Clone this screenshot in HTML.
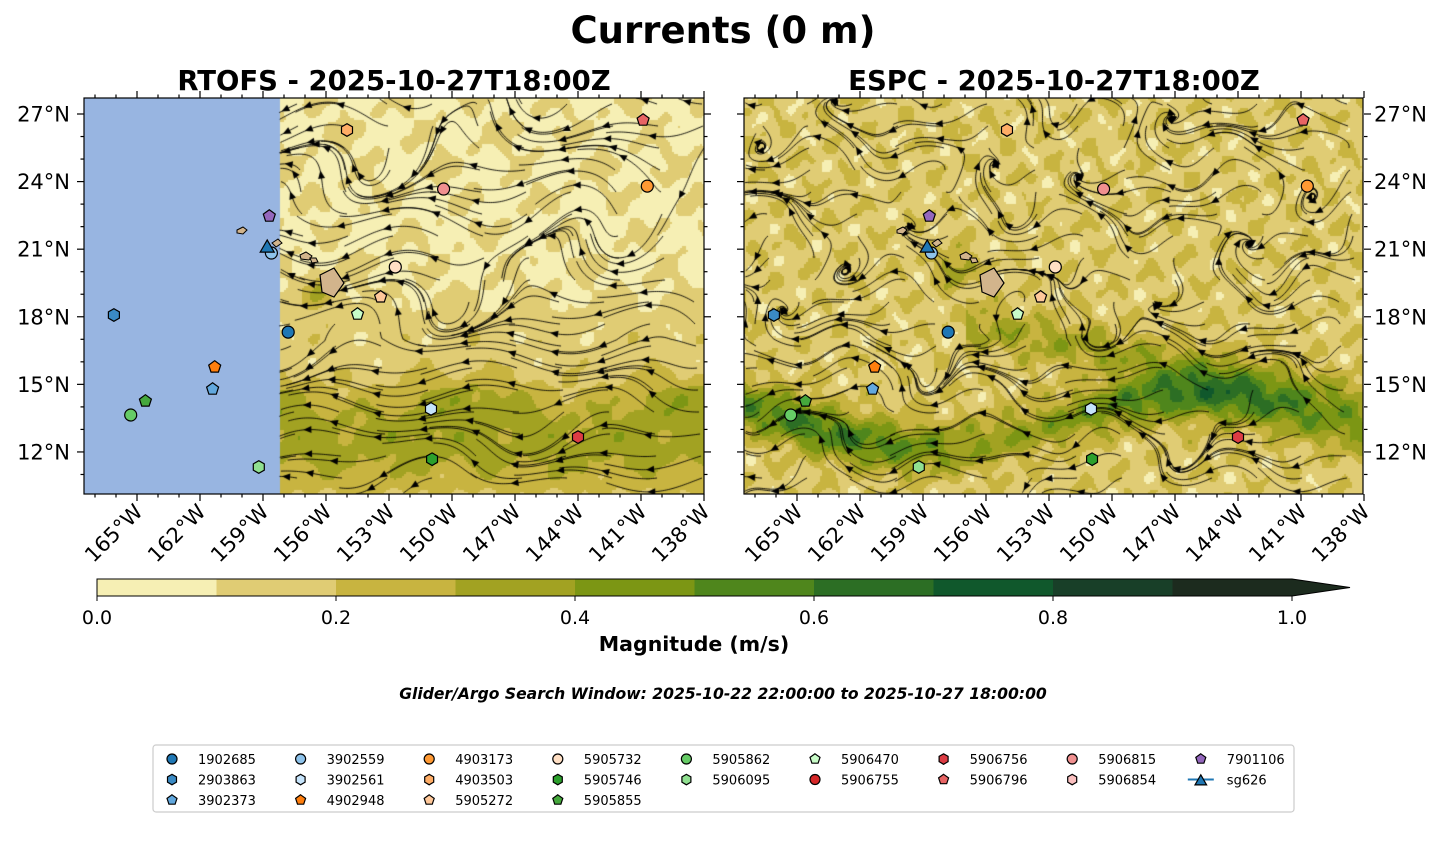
<!DOCTYPE html>
<html><head><meta charset="utf-8">
<style>
html,body{margin:0;padding:0;background:#fff;}
#wrap{position:relative;width:1447px;height:863px;overflow:hidden;font-family:"DejaVu Sans","Liberation Sans",sans-serif;}
canvas{position:absolute;}
svg{position:absolute;left:0;top:0;font-family:"DejaVu Sans","Liberation Sans",sans-serif;}
</style></head>
<body>
<div id="wrap">
<canvas id="cL" width="620" height="396" style="left:84px;top:98px"></canvas>
<canvas id="cR" width="619" height="396" style="left:744px;top:98px"></canvas>
<svg id="svg" width="1447" height="863" xmlns="http://www.w3.org/2000/svg"></svg>
</div>
<script>
// ---- data ----
const floatIds = ["1902685","2903863","3902373","3902559","3902561","4902948","4903173","4903503","5905272","5905732","5905746","5905855","5905862","5906095","5906470","5906755","5906756","5906796","5906815","5906854","7901106","sg626"];
const floatShapes = ["o","h","p","o","h","p","o","h","p","o","h","p","o","h","p","o","h","p","o","h","p","t"];
const floatColors = ["#1f77b4","#3a8ac4","#62a8de","#8ec3eb","#c6e4fb","#ff7f0e","#ff9933","#ffad66","#ffc89a","#ffdfc4","#2ca02c","#45a83c","#66cc66","#90e090","#c8fcc8","#d62728","#dc3c44","#e86464","#f09090","#fbc0c0","#9467bd","#1f77b4"];
const floatLon = [157.8,166.1,161.4,158.6,151.0,161.3,140.7,155.0,153.4,152.7,150.95,164.6,165.3,159.2,154.5,null,144.0,140.9,150.4,null,158.7,158.8];
const floatLat = [17.32,18.08,14.79,20.83,13.91,15.77,23.80,26.29,18.88,20.21,11.68,14.26,13.64,11.33,18.12,null,12.66,26.73,23.67,null,22.47,21.14];
const lonTicks = [165,162,159,156,153,150,147,144,141,138];
const latTicks = [27,24,21,18,15,12];
const cbTicks = [0.0,0.2,0.4,0.6,0.8,1.0];
const cbColors = ["#f6efb4","#e0cc74","#c8b440","#a2a222","#7c9614","#4f861c","#2c6e24","#10582c","#183f28","#1c2b1e"];

// ---- axes ----
const panels=[{x0:84,name:"rtofs"},{x0:744,name:"espc"}];
const PW=620,PY0=98,PH=396;
function lx(lon){return 704-(lon-138)*21;}
function ly(lat){return 114+(27-lat)*22.53;}
const NS="http://www.w3.org/2000/svg";
const svg=document.getElementById('svg');
function mk(tag,attrs,parent){const e=document.createElementNS(NS,tag);for(const k in attrs)e.setAttribute(k,attrs[k]);(parent||svg).appendChild(e);return e;}

// ---- field ----
function mag(lon,lat,right){
  let m;
  if(!right){
    m=0.09+0.25*Math.exp(-Math.pow((lat-12.5)/2.6,2))+0.05*Math.sin(lon*1.7+lat*0.9)*Math.sin(lat*2.1)+0.03*Math.sin(lon*4.1)*Math.cos(lat*3.7);
    m+=0.12*Math.exp(-Math.pow((lat-14.5)/1.1,2))*(0.5+0.5*Math.sin(lon*0.6));
    m+=0.05*Math.exp(-Math.pow((lat-17.5)/1.5,2));
    m+=0.25*Math.exp(-(Math.pow(lon-156.3,2)+Math.pow(lat-19.2,2))/0.6);
  }else{
    const bc=13.4+1.2*Math.sin((lon-140)*0.25);
    m=0.17+0.42*Math.exp(-Math.pow((lat-bc)/1.1,2))*(0.75+0.25*Math.cos((lon-146)*0.35));
    m+=0.18*Math.exp(-Math.pow((lat-(17.5-(156-lon)*0.18))/1.0,2))*(lon<157?1:0);
    m+=0.08*Math.sin(lon*2.3+lat*1.1)*Math.sin(lat*2.7-lon*0.8)+0.05*Math.sin(lon*5.1)*Math.cos(lat*4.3);
    m+=0.2*Math.exp(-(Math.pow(lon-157.5,2)+Math.pow(lat-20.2,2))/0.8);
  }
  return Math.max(0,m);
}
function vel(lon,lat,right){
  let u=0.8+0.7*Math.sin(lat*0.8+lon*0.35)+(lat<17?0.7:0);
  let v=0.5*Math.sin(lon*0.9+lat*0.5)+0.3*Math.cos(lat*1.3-lon*0.4);
  if(right){u+=0.7*Math.sin(lat*1.6+lon*1.1);v+=0.8*Math.cos(lon*1.3-lat*0.9);}
  return [u,v];
}
function drawField(id,right){
  const c=document.getElementById(id),g=c.getContext('2d');
  const W=c.width,H=c.height,cs=2;
  for(let y=0;y<H;y+=cs)for(let x=0;x<W;x+=cs){
    const lon=138+(704-84-x)/21, lat=27-(y+98-114)/22.53;
    if(!right&&x<195){g.fillStyle="#98b5e1";g.fillRect(x,y,cs,cs);continue;}
    const m=mag(lon,lat,right);const i=Math.min(9,Math.floor(m*10));
    g.fillStyle=cbColors[i];g.fillRect(x,y,cs,cs);
  }
  g.strokeStyle="#000";g.lineWidth=0.9;g.fillStyle="#000";
  const x0=right?0:195;
  for(let sy=6;sy<H;sy+=22)for(let sx=x0+10;sx<W+40;sx+=45){
    let x=sx+((sy*7)%17),y=sy;g.beginPath();g.moveTo(x,y);
    let pts=[[x,y]];
    for(let k=0;k<45;k++){
      const lon=138+(620-x)/21,lat=27-(y-16)/22.53;
      const [u,v]=vel(lon,lat,right);const n=Math.hypot(u,v)||1;
      x-=u/n*2.2;y-=v/n*2.2;
      if(x<x0||x>W||y<0||y>H)break;
      g.lineTo(x,y);pts.push([x,y]);
    }
    g.stroke();
    if(pts.length>8){const a=pts[Math.floor(pts.length/2)],b=pts[Math.floor(pts.length/2)+1];
      const ang=Math.atan2(b[1]-a[1],b[0]-a[0]);
      g.save();g.translate(b[0],b[1]);g.rotate(ang);g.beginPath();g.moveTo(4,0);g.lineTo(-4,-3.5);g.lineTo(-4,3.5);g.closePath();g.fill();g.restore();}
  }
}
drawField('cL',false);drawField('cR',true);

// ---- titles ----
let t=mk('text',{x:723,y:43,'text-anchor':'middle','font-size':37,'font-weight':'bold'});t.textContent="Currents (0 m)";

const subs=["RTOFS - 2025-10-27T18:00Z","ESPC - 2025-10-27T18:00Z"];
panels.forEach((p,pi)=>{
  const dx=p.x0-84;
  const g=mk('g',{});
  
  let s=mk('text',{x:p.x0+310,y:90,'text-anchor':'middle','font-size':27.5,'font-weight':'bold'},g);s.textContent=subs[pi];
  
  const isl=mk('path',{d:`M${dx+320},${275} L${dx+334},${268} L${dx+344},${283} L${dx+334},${297} L${dx+322},${292} Z`,fill:'#d2b48c',stroke:'#000','stroke-width':1.2},g);
  
  mk('path',{d:`M${dx+300},255 l6,-3 6,4 -3,4 -8,-1 Z M${dx+310},258 l6,0 2,4 -6,1 Z M${dx+237},230 l6,-3 4,3 -4,4 -6,-1Z M${dx+272},243 l6,-4 4,4 -6,4Z`,fill:'#d2b48c',stroke:'#000','stroke-width':1},g);
  const fr=mk('rect',{x:p.x0,y:PY0,width:PW-(pi?1:0),height:PH,fill:'none',stroke:'#000','stroke-width':1.2},g);
  
  for(let lon=167;lon>=138;lon--){const x=lx(lon)+dx;const maj=lonTicks.includes(lon);const L=maj?7:3.5;
    mk('line',{x1:x,y1:PY0,x2:x,y2:PY0-L,stroke:'#000','stroke-width':1.2},g);
    mk('line',{x1:x,y1:PY0+PH,x2:x,y2:PY0+PH+L,stroke:'#000','stroke-width':1.2},g);}
  for(let lat=11;lat<=27;lat++){const y=ly(lat);const maj=latTicks.includes(lat);const L=maj?7:3.5;
    mk('line',{x1:p.x0,y1:y,x2:p.x0-L,y2:y,stroke:'#000','stroke-width':1.2},g);
    mk('line',{x1:p.x0+PW,y1:y,x2:p.x0+PW+L,y2:y,stroke:'#000','stroke-width':1.2},g);}
  lonTicks.forEach(lon=>{const x=lx(lon)+dx+7;
    const tl=mk('text',{x:x,y:513,'text-anchor':'end','font-size':21,transform:`rotate(-45 ${x} 513)`},g);tl.textContent=lon+"°W";
    });
  latTicks.forEach(lat=>{const y=ly(lat)+7.5;
    const tl=mk('text',pi?{x:1374,y:y,'font-size':21}:{x:70,y:y,'text-anchor':'end','font-size':21},g);tl.textContent=lat+"°N";
    });
});

// ---- markers ----
function marker(shape,cx,cy,r,col,parent){
  if(shape==='o')return mk('circle',{cx:cx,cy:cy,r:r,fill:col,stroke:'#000','stroke-width':1.2},parent);
  let n=shape==='p'?5:3,rr=shape==='t'?r*1.35:r*1.05,pts=[];
  if(shape==='h'){for(let i=0;i<6;i++){const a=Math.PI/2+i*Math.PI/3;pts.push((cx+rr*Math.cos(a)).toFixed(1)+','+(cy+rr*Math.sin(a)).toFixed(1));}}
  else for(let i=0;i<n;i++){const a=-Math.PI/2+i*2*Math.PI/n;pts.push((cx+rr*Math.cos(a)).toFixed(1)+','+(cy+rr*Math.sin(a)+(shape==='t'?2:0)).toFixed(1));}
  return mk('polygon',{points:pts.join(' '),fill:col,stroke:'#000','stroke-width':1.2},parent);
}
panels.forEach((p,pi)=>{const dx=p.x0-84;
  floatIds.forEach((id,i)=>{if(floatLon[i]==null)return;
    const m=marker(floatShapes[i],lx(floatLon[i])+dx,ly(floatLat[i]),6,floatColors[i]);
    
    
  });
});

// ---- colorbar ----
const cbx0=97,cbx1=1292,cby=579,cbh=17;
function cbX(v){return cbx0+(cbx1-cbx0)*v;}
cbColors.forEach((c,i)=>{const r=mk('rect',{x:cbX(i/10),y:cby,width:cbX((i+1)/10)-cbX(i/10)+0.5,height:cbh,fill:c});
  });
const tri=mk('polygon',{points:`${cbx1},${cby} 1350,${cby+cbh/2} ${cbx1},${cby+cbh}`,fill:'#1c2b1e'});

mk('polygon',{points:`${cbx0},${cby} ${cbx1},${cby} 1350,${cby+cbh/2} ${cbx1},${cby+cbh} ${cbx0},${cby+cbh}`,fill:'none',stroke:'#000','stroke-width':1});
cbTicks.forEach(v=>{const x=cbX(v);mk('line',{x1:x,y1:cby+cbh,x2:x,y2:cby+cbh+5,stroke:'#000'});
  const tl=mk('text',{x:x,y:624,'text-anchor':'middle','font-size':19});tl.textContent=v.toFixed(1);
  });
t=mk('text',{x:694,y:651,'text-anchor':'middle','font-size':20.5,'font-weight':'bold'});t.textContent="Magnitude (m/s)";

t=mk('text',{x:723,y:699,'text-anchor':'middle','font-size':15.6,'font-weight':'bold','font-style':'italic'});t.textContent="Glider/Argo Search Window: 2025-10-22 22:00:00 to 2025-10-27 18:00:00";


// ---- legend ----
const lg=mk('g',{});

mk('rect',{x:153,y:745,width:1141,height:67,rx:3,fill:'#fff',stroke:'#ccc','stroke-width':1.2},lg);
const cols=[[0,1,2],[3,4,5],[6,7,8],[9,10,11],[12,13],[14,15],[16,17],[18,19],[20,21]];
cols.forEach((col,ci)=>{col.forEach((i,ri)=>{
  const mx=172+ci*128.6,my=759+ri*20.5;
  const e=mk('g',{},lg);
  
  
  if(floatShapes[i]==='t')mk('line',{x1:mx-13,y1:my,x2:mx+13,y2:my,stroke:'#1f77b4','stroke-width':2},e);
  marker(floatShapes[i],mx,my,5,floatColors[i],e);
  const tt=mk('text',{x:mx+26,y:my+5,'font-size':13},e);tt.textContent=floatIds[i];
});});
</script>
</body></html>
